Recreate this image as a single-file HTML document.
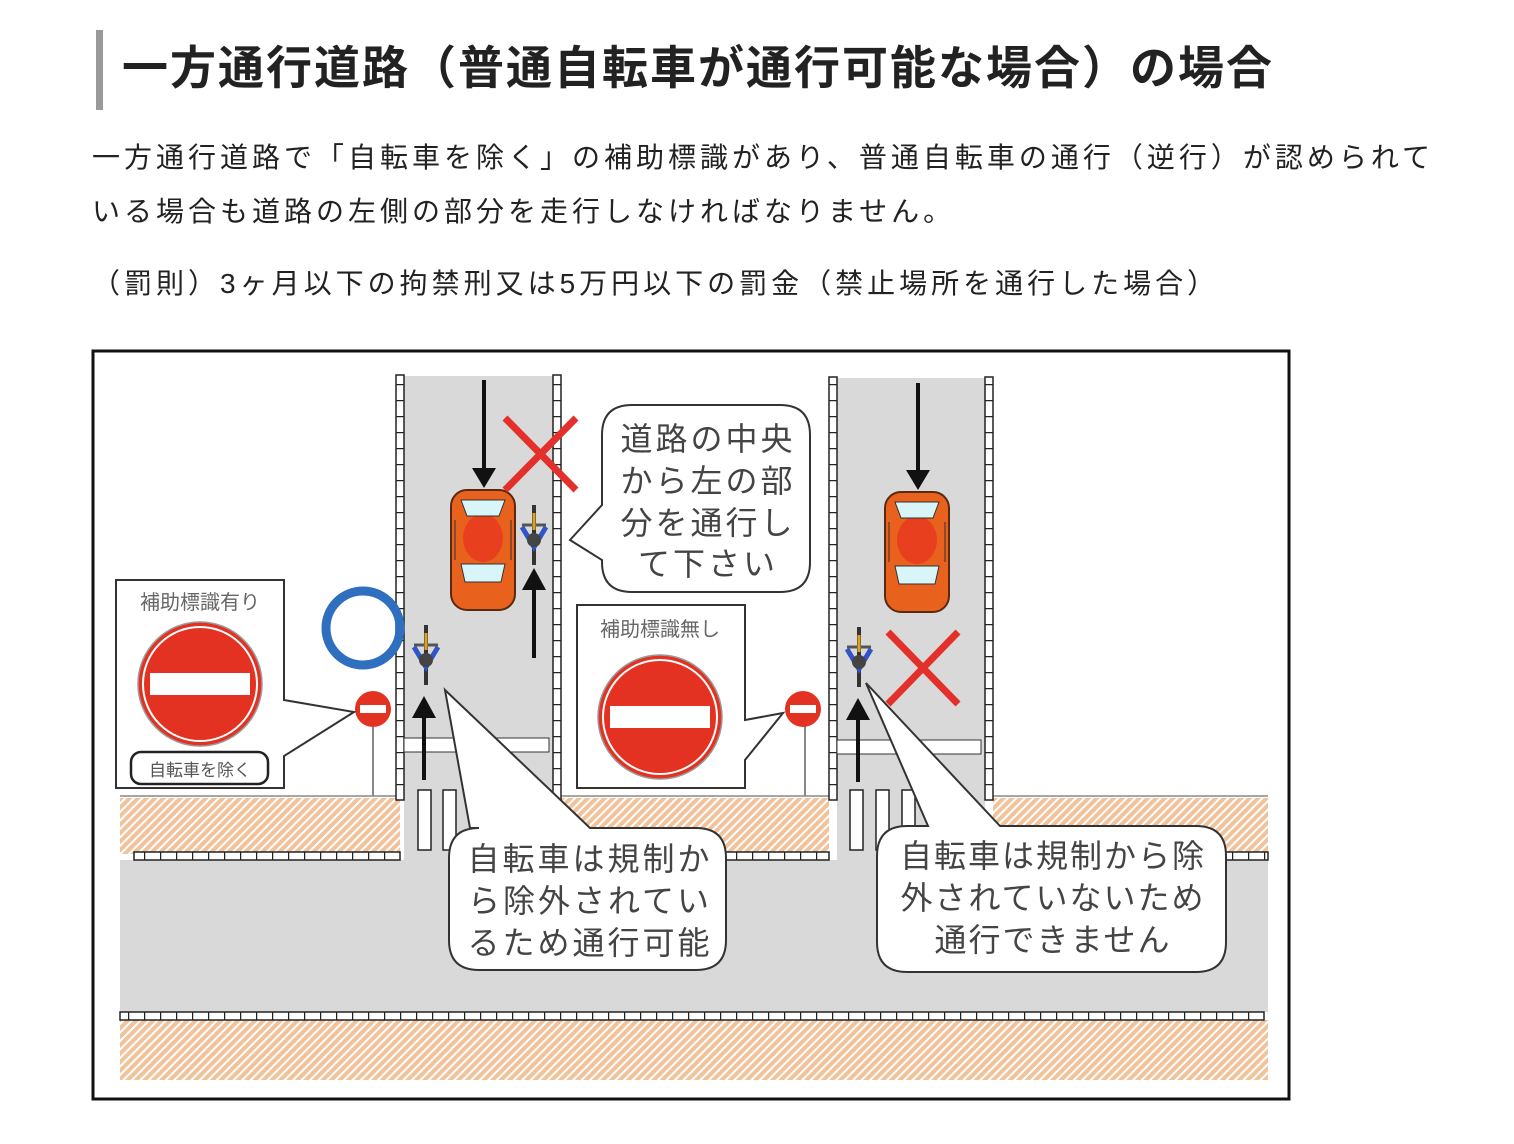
<!DOCTYPE html>
<html><head><meta charset="utf-8"><style>
body{margin:0;background:#fff;width:1514px;height:1144px;overflow:hidden;font-family:"Liberation Sans","Noto Sans CJK JP",sans-serif;color:#222}
.bar{position:absolute;left:96px;top:30px;width:7px;height:80px;background:#999}
h1{position:absolute;left:122px;top:38px;margin:0;font-size:46px;letter-spacing:2px;font-weight:bold;line-height:60px;white-space:nowrap}
p{position:absolute;margin:0;font-size:28px;letter-spacing:4px;white-space:nowrap}
svg{position:absolute;left:0;top:0}
</style></head><body>
<div class="bar"></div>
<h1>一方通行道路（普通自転車が通行可能な場合）の場合</h1>
<p style="left:92px;top:136px">一方通行道路で「自転車を除く」の補助標識があり、普通自転車の通行（逆行）が認められて</p>
<p style="left:92px;top:190px">いる場合も道路の左側の部分を走行しなければなりません。</p>
<p style="left:92px;top:262px">（罰則）3ヶ月以下の拘禁刑又は5万円以下の罰金（禁止場所を通行した場合）</p>
<svg width="1514" height="1144" viewBox="0 0 1514 1144" font-family="Liberation Sans, Noto Sans CJK JP, sans-serif">
<defs>
<pattern id="h" width="12" height="12" patternUnits="userSpaceOnUse" patternTransform="rotate(-45)">
<rect width="12" height="12" fill="#fff"/><rect x="0" y="0" width="12" height="4" fill="#f2c29a"/><rect x="0" y="6" width="12" height="4" fill="#f2c29a"/></pattern>
<pattern id="ch" width="16" height="8" patternUnits="userSpaceOnUse"><rect width="16" height="8" fill="#fff"/><line x1="0.5" y1="0" x2="0.5" y2="8" stroke="#222" stroke-width="1.5"/></pattern>
<pattern id="cv" width="8" height="16" patternUnits="userSpaceOnUse"><rect width="8" height="16" fill="#fff"/><line x1="0" y1="0.5" x2="8" y2="0.5" stroke="#222" stroke-width="1.5"/></pattern>
<g id="car"><rect x="-32" y="-60" width="64" height="120" rx="16" fill="#e8621e" stroke="#5a2a10" stroke-width="2"/><ellipse cx="0" cy="-12" rx="20" ry="24" fill="#e8401e"/><path d="M-22 -50 h44 l-6 16 h-32z" fill="#d8f6fa" stroke="#333"/><path d="M-22 14 h44 l-4 18 h-36z" fill="#d8f6fa" stroke="#333"/><line x1="-28" y1="-30" x2="-28" y2="10" stroke="#333"/><line x1="28" y1="-30" x2="28" y2="10" stroke="#333"/></g>
<g id="bike"><line x1="0" y1="-30" x2="0" y2="30" stroke="#333" stroke-width="4"/><path d="M-12 -8 l12 20 l12 -20" fill="none" stroke="#2f55c8" stroke-width="5"/><line x1="-12" y1="-10" x2="12" y2="-10" stroke="#555" stroke-width="3"/><circle cx="0" cy="5" r="7" fill="#444"/><line x1="0" y1="-22" x2="0" y2="-5" stroke="#e0a020" stroke-width="3"/></g>
<g id="sign"><circle r="62" fill="#e33222" stroke="#999" stroke-width="1.5"/><circle r="57" fill="none" stroke="#fff" stroke-width="2"/><rect x="-50" y="-11" width="100" height="22" fill="#fff"/></g>
<g id="ss"><circle r="18" fill="#e33222"/><rect x="-13" y="-4" width="26" height="8" fill="#fff"/></g>
</defs>
<rect x="93" y="351" width="1196" height="748" fill="#fff" stroke="#111" stroke-width="3"/>
<rect x="120" y="798" width="280" height="56" fill="url(#h)"/>
<rect x="556" y="798" width="273" height="56" fill="url(#h)"/>
<rect x="993" y="798" width="275" height="56" fill="url(#h)"/>
<rect x="120" y="1020" width="1148" height="60" fill="url(#h)"/>
<line x1="120" y1="796" x2="400" y2="796" stroke="#888" stroke-width="1.5"/>
<line x1="556" y1="796" x2="829" y2="796" stroke="#888" stroke-width="1.5"/>
<line x1="993" y1="796" x2="1268" y2="796" stroke="#888" stroke-width="1.5"/>
<rect x="120" y="860" width="1148" height="152" fill="#d9d9d9"/>
<rect x="404" y="376" width="149" height="490" fill="#d9d9d9"/>
<rect x="837" y="378" width="148" height="488" fill="#d9d9d9"/>
<rect x="396" y="375" width="8" height="425" fill="url(#cv)" stroke="#222" stroke-width="1.5"/>
<rect x="553" y="375" width="8" height="425" fill="url(#cv)" stroke="#222" stroke-width="1.5"/>
<rect x="829" y="377" width="8" height="423" fill="url(#cv)" stroke="#222" stroke-width="1.5"/>
<rect x="985" y="377" width="8" height="423" fill="url(#cv)" stroke="#222" stroke-width="1.5"/>
<rect x="134" y="852" width="266" height="8" fill="url(#ch)" stroke="#222" stroke-width="1.5"/>
<rect x="556" y="852" width="273" height="8" fill="url(#ch)" stroke="#222" stroke-width="1.5"/>
<rect x="993" y="852" width="275" height="8" fill="url(#ch)" stroke="#222" stroke-width="1.5"/>
<rect x="120" y="1012" width="1144" height="8" fill="url(#ch)" stroke="#222" stroke-width="1.5"/>
<rect x="404" y="738" width="145" height="14" fill="#fff" stroke="#333"/>
<rect x="837" y="740" width="144" height="14" fill="#fff" stroke="#333"/>
<g fill="#fff" stroke="#222" stroke-width="1.5">
<rect x="418" y="790" width="13" height="60"/><rect x="443" y="790" width="13" height="60"/><rect x="470" y="790" width="13" height="60"/><rect x="497" y="790" width="13" height="60"/>
<rect x="850" y="790" width="13" height="60"/><rect x="876" y="790" width="13" height="60"/><rect x="902" y="790" width="13" height="60"/>
</g>
<g stroke="#111" stroke-width="4" fill="#111">
<line x1="484" y1="380" x2="484" y2="470"/><path d="M472 468 h24 l-12 20z" stroke="none"/>
<line x1="918" y1="383" x2="918" y2="472"/><path d="M906 470 h24 l-12 20z" stroke="none"/>
<line x1="534" y1="588" x2="534" y2="658"/><path d="M522 590 h24 l-12 -22z" stroke="none"/>
<line x1="424" y1="718" x2="424" y2="780"/><path d="M412 718 h24 l-12 -22z" stroke="none"/>
<line x1="858" y1="720" x2="858" y2="782"/><path d="M846 720 h24 l-12 -22z" stroke="none"/>
</g>
<use href="#car" x="483" y="550"/>
<use href="#car" x="917" y="552"/>
<use href="#bike" x="534" y="535"/>
<use href="#bike" x="426" y="655"/>
<use href="#bike" x="859" y="657"/>
<g stroke="#e3302a" stroke-width="7"><line x1="505" y1="418" x2="576" y2="490"/><line x1="576" y1="418" x2="505" y2="490"/>
<line x1="888" y1="632" x2="958" y2="704"/><line x1="958" y1="632" x2="888" y2="704"/></g>
<circle cx="363" cy="628" r="37" fill="none" stroke="#2f6fc0" stroke-width="9"/>
<line x1="373" y1="720" x2="373" y2="796" stroke="#888" stroke-width="2"/><use href="#ss" x="373" y="709"/>
<line x1="805" y1="720" x2="805" y2="796" stroke="#888" stroke-width="2"/><use href="#ss" x="803" y="709"/>
<path d="M116 580 H284 V700 L354 712 L284 756 V788 H116Z" fill="#fff" stroke="#333" stroke-width="2"/>
<text x="200" y="609" font-size="20" fill="#666" text-anchor="middle">補助標識有り</text>
<use href="#sign" x="200" y="684"/>
<rect x="131" y="752" width="137" height="32" rx="10" fill="#fff" stroke="#222" stroke-width="2.5"/>
<text x="200" y="776" font-size="17" fill="#555" text-anchor="middle">自転車を除く</text>
<path d="M577 605 H745 V720 L783 713 L745 760 V788 H577Z" fill="#fff" stroke="#333" stroke-width="2"/>
<text x="660" y="636" font-size="20" fill="#666" text-anchor="middle">補助標識無し</text>
<use href="#sign" x="660" y="717"/>
<path d="M632 405 H780 Q810 405 810 435 V562 Q810 592 780 592 H632 Q602 592 602 562 V560 L570 540 L602 505 V435 Q602 405 632 405Z" fill="#fff" stroke="#333" stroke-width="2"/>
<g font-size="32" fill="#444" text-anchor="middle" letter-spacing="3"><text x="708" y="450">道路の中央</text><text x="708" y="492">から左の部</text><text x="708" y="534">分を通行し</text><text x="708" y="575">て下さい</text></g>
<path d="M479 828 H470 L445 690 L590 828 H696 Q726 828 726 858 V940 Q726 970 696 970 H479 Q449 970 449 940 V858 Q449 828 479 828Z" fill="#fff" stroke="#333" stroke-width="2"/>
<g font-size="32" fill="#444" text-anchor="middle" letter-spacing="3"><text x="590" y="870">自転車は規制か</text><text x="590" y="912">ら除外されてい</text><text x="590" y="954">るため通行可能</text></g>
<path d="M907 826 H928 L866 683 L1000 826 H1196 Q1226 826 1226 856 V942 Q1226 972 1196 972 H907 Q877 972 877 942 V856 Q877 826 907 826Z" fill="#fff" stroke="#333" stroke-width="2"/>
<g font-size="32" fill="#444" text-anchor="middle" letter-spacing="2"><text x="1053" y="867">自転車は規制から除</text><text x="1053" y="909">外されていないため</text><text x="1053" y="951">通行できません</text></g>
</svg>
</body></html>
